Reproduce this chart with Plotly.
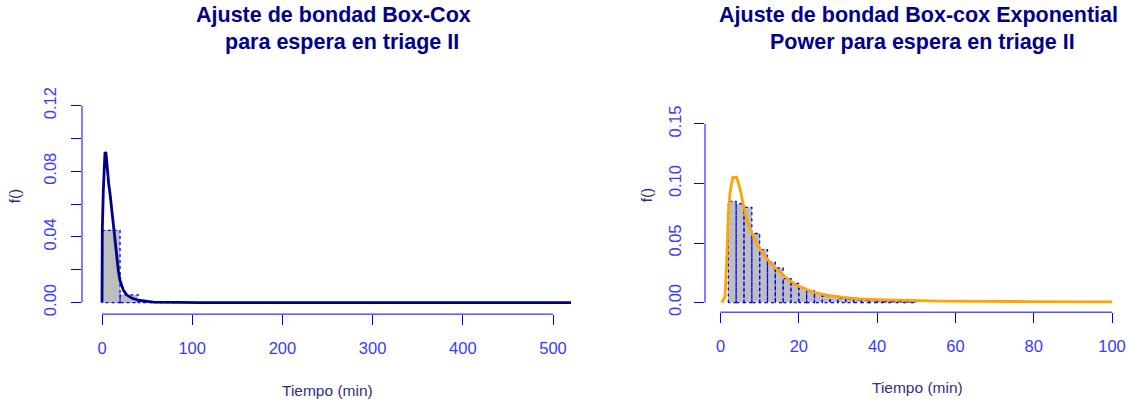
import plotly.graph_objects as go

W, H = 1127, 405

# ---------------- data ----------------
left_bin_edges = [0, 20, 40, 60, 80]
left_density = [0.0440, 0.0047, 0.0006, 0.0002]

left_curve_x = [0.0, 0.37, 1.48, 3.33, 4.43, 5.91, 7.39, 8.87, 10.72, 12.57, 14.41,
                16.26, 18.11, 19.96, 23.65, 27.35, 32.9, 40.3, 56.9, 108.6, 200.0, 520.0]
left_curve_y = [0.0, 0.0449, 0.0684, 0.0916, 0.0910, 0.0800, 0.0724, 0.0665, 0.0567, 0.0469,
                0.0371, 0.0273, 0.0194, 0.0135, 0.0076, 0.0047, 0.0027, 0.0014, 0.0002,
                0.0, 0.0, 0.0]

right_bin_edges = [2, 4, 6, 8, 10, 12, 14, 16, 18, 20, 22, 24, 26, 28, 30, 32, 34,
                   36, 38, 40, 42, 44, 46, 48, 50]
right_density = [0.085, 0.083, 0.080, 0.058, 0.0445, 0.034, 0.029, 0.020, 0.016, 0.012,
                 0.0098, 0.0079, 0.0057, 0.0051, 0.0038, 0.0030, 0.0025, 0.0020, 0.0017,
                 0.0013, 0.0011, 0.0009, 0.0008, 0.0007]

right_curve_x = [0.3, 1.15, 1.58, 1.75, 2.0, 2.43, 3.1, 4.13, 4.98, 5.83, 6.68, 7.54, 8.38,
                 9.24, 10.09, 11.37, 12.64, 14.35, 16.05, 17.75, 19.46, 21.15, 22.86, 25.4,
                 27.97, 31.4, 35.6, 39.9, 48.4, 56.1, 80.0, 100.0]
right_curve_y = [0.0, 0.0046, 0.035, 0.054, 0.075, 0.092, 0.105, 0.1052, 0.0957, 0.0822,
                 0.0700, 0.0619, 0.0551, 0.0497, 0.0451, 0.0389, 0.0335, 0.0281, 0.0227,
                 0.0181, 0.0146, 0.0119, 0.0097, 0.0073, 0.0057, 0.0043, 0.0030, 0.0024,
                 0.0016, 0.0012, 0.0008, 0.0006]

left_xticks = [0, 100, 200, 300, 400, 500]
left_yticks = [0.0, 0.02, 0.04, 0.06, 0.08, 0.10, 0.12]
left_ytick_text = ["0.00", "", "0.04", "", "0.08", "", "0.12"]
right_xticks = [0, 20, 40, 60, 80, 100]
right_yticks = [0.0, 0.05, 0.10, 0.15]
right_ytick_text = ["0.00", "0.05", "0.10", "0.15"]

title_left = ["Ajuste de bondad Box-Cox", "para espera en triage II"]
title_right = ["Ajuste de bondad Box-cox Exponential", "Power para espera en triage II"]
xlabel = "Tiempo (min)"
ylabel = "f()"

# ---------------- style ----------------
FONT = "Liberation Sans, Arial, sans-serif"
AX_BLUE = "#0000FF"
LBL_BLUE = "#3A3AFF"
TITLE_C = "#00008B"
AXT_C = "#2F2F80"
GREY = "#BEBEBE"


def px_x(p):
    return p / W


def px_y(p):
    return 1 - p / H


def hist_traces(edges, dens, xa, ya):
    centers = [(a + b) / 2 for a, b in zip(edges[:-1], edges[1:])]
    widths = [b - a for a, b in zip(edges[:-1], edges[1:])]
    bar = go.Bar(x=centers, y=dens, width=widths, marker=dict(color=GREY, line=dict(width=0)),
                 xaxis=xa, yaxis=ya, showlegend=False, hoverinfo="skip")
    ox, oy = [], []
    for a, b, h in zip(edges[:-1], edges[1:], dens):
        ox += [a, a, b, b, a, None]
        oy += [0, h, h, 0, 0, None]
    outline = go.Scatter(x=ox, y=oy, mode="lines", line=dict(color=AX_BLUE, width=1.3, dash="dot"),
                         xaxis=xa, yaxis=ya, showlegend=False, hoverinfo="skip")
    return [bar, outline]


fig = go.Figure()
for t in hist_traces(left_bin_edges, left_density, "x", "y"):
    fig.add_trace(t)
fig.add_trace(go.Scatter(x=left_curve_x, y=left_curve_y, mode="lines",
                         line=dict(color="#00008B", width=2.8), showlegend=False))
for t in hist_traces(right_bin_edges, right_density, "x2", "y2"):
    fig.add_trace(t)
fig.add_trace(go.Scatter(x=right_curve_x, y=right_curve_y, mode="lines",
                         line=dict(color="#FFA500", width=2.8), xaxis="x2", yaxis="y2",
                         showlegend=False))

# axis geometry (pixels)
L_left, L_right, L_bottom, L_top = 82, 590, 315, 90
L_x0px, L_xscale = 102, 0.902          # px of x=0, px per unit
L_y0px, L_yscale = 303, 1700.0         # px of y=0, px per unit
R_left, R_right, R_bottom, R_top = 705, 1127, 313, 110
R_x0px, R_xscale = 720.5, 3.915
R_y0px, R_yscale = 303, 1233.0

tickfont = dict(family=FONT, size=16.5, color=LBL_BLUE)
common = dict(showgrid=False, zeroline=False, showline=False, ticks="outside", ticklen=10,
              tickcolor=AX_BLUE, tickwidth=1, tickfont=tickfont, fixedrange=True,
              ticklabeloverflow="allow")

fig.update_layout(
    width=W, height=H, margin=dict(l=0, r=0, t=0, b=0),
    paper_bgcolor="white", plot_bgcolor="white", showlegend=False, bargap=0,
    font=dict(family=FONT),
    xaxis=dict(domain=[px_x(L_left), px_x(L_right)],
               range=[(L_left - L_x0px) / L_xscale, (L_right - L_x0px) / L_xscale],
               tickvals=left_xticks, ticktext=[str(v) for v in left_xticks],
               anchor="y", ticklabelstandoff=9, **common),
    yaxis=dict(domain=[px_y(L_bottom), px_y(L_top)],
               range=[-(L_bottom - L_y0px) / L_yscale, (L_y0px - L_top) / L_yscale],
               tickvals=left_yticks, ticktext=left_ytick_text, tickangle=-90,
               anchor="x", ticklabelstandoff=8, **common),
    xaxis2=dict(domain=[px_x(R_left), px_x(R_right)],
                range=[(R_left - R_x0px) / R_xscale, (R_right - R_x0px) / R_xscale],
                tickvals=right_xticks, ticktext=[str(v) for v in right_xticks],
                anchor="y2", ticklabelstandoff=9, **common),
    yaxis2=dict(domain=[px_y(R_bottom), px_y(R_top)],
                range=[-(R_bottom - R_y0px) / R_yscale, (R_y0px - R_top) / R_yscale],
                tickvals=right_yticks, ticktext=right_ytick_text, tickangle=-90,
                anchor="x2", ticklabelstandoff=6, **common),
)

# R-style axis lines spanning only the tick range
shapes = [
    dict(type="line", xref="x", yref="paper", x0=left_xticks[0], x1=left_xticks[-1],
         y0=px_y(L_bottom), y1=px_y(L_bottom), line=dict(color=AX_BLUE, width=1)),
    dict(type="line", xref="paper", yref="y", x0=px_x(L_left), x1=px_x(L_left),
         y0=left_yticks[0], y1=left_yticks[-1], line=dict(color=AX_BLUE, width=1)),
    dict(type="line", xref="x2", yref="paper", x0=right_xticks[0], x1=right_xticks[-1],
         y0=px_y(R_bottom), y1=px_y(R_bottom), line=dict(color=AX_BLUE, width=1)),
    dict(type="line", xref="paper", yref="y2", x0=px_x(R_left), x1=px_x(R_left),
         y0=right_yticks[0], y1=right_yticks[-1], line=dict(color=AX_BLUE, width=1)),
]
fig.update_layout(shapes=shapes)

ann = []
tfont = dict(family=FONT, size=21.5, color=TITLE_C)
for txt, cx, cy in [(title_left[0], 333.5, 5), (title_left[1], 342, 33),
                    (title_right[0], 918, 5), (title_right[1], 922.7, 33)]:
    ann.append(dict(text="<b>" + txt + "</b>", x=px_x(cx), y=px_y(cy), xref="paper", yref="paper",
                    xanchor="center", yanchor="middle", showarrow=False, font=tfont))
afont = dict(family=FONT, size=15.5, color=AXT_C)
for cx, cy in [(327, 394), (917, 391)]:
    ann.append(dict(text=xlabel, x=px_x(cx), y=px_y(cy), xref="paper", yref="paper",
                    xanchor="center", yanchor="middle", showarrow=False, font=afont))
for cx in [14, 646]:
    ann.append(dict(text=ylabel, x=px_x(cx), y=px_y(192), xref="paper", yref="paper",
                    xanchor="center", yanchor="middle", showarrow=False, font=afont,
                    textangle=-90))
fig.update_layout(annotations=ann)

fig.write_html("out.html")
